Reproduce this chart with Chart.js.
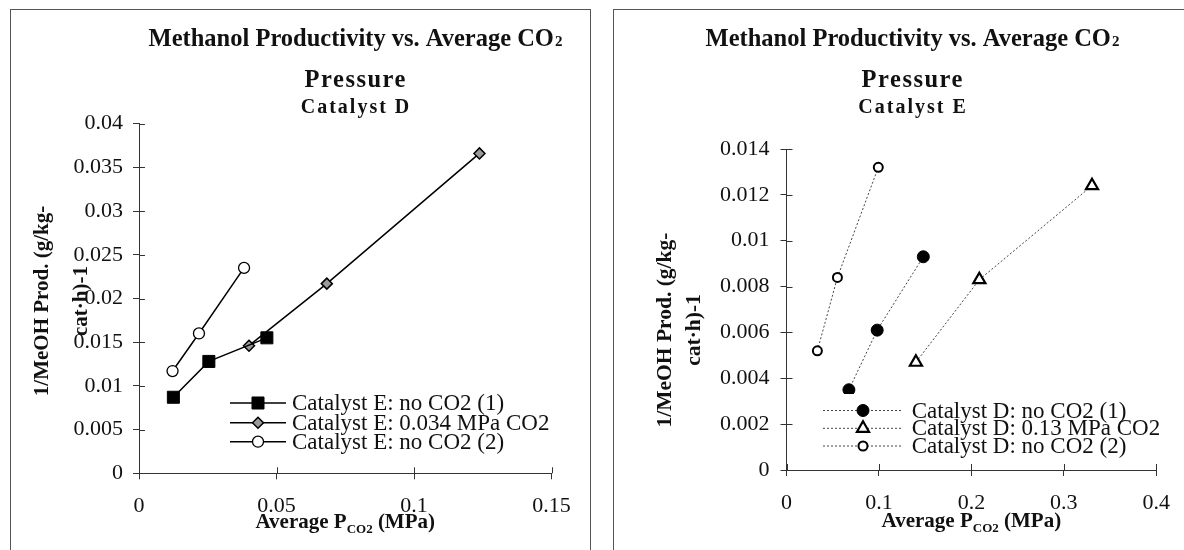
<!DOCTYPE html>
<html>
<head>
<meta charset="utf-8">
<script src="https://cdn.jsdelivr.net/npm/chart.js@4/dist/chart.umd.min.js"></script>
<style>
  html, body { margin: 0; padding: 0; background: #fff; }
  body { width: 1184px; height: 550px; position: relative; overflow: hidden; }
  .frame { position: absolute; border: 1px solid #555; box-sizing: border-box; }
  canvas { position: absolute; top: 0; }
</style>
</head>
<body>
<div class="frame" style="left:10px;top:9px;width:581px;height:570px"></div>
<div class="frame" style="left:613px;top:9px;width:600px;height:570px"></div>
<canvas id="chartE" width="600" height="550" style="left:0"></canvas>
<canvas id="chartD" width="584" height="550" style="left:600px"></canvas>
<script>
// ---------- Catalyst E (left panel) ----------
const eNoCO2a_x = [0.0125, 0.0254, 0.0465];
const eNoCO2a_y = [0.0087, 0.0128, 0.0155];
const eCO2_x    = [0.0400, 0.0683, 0.1238];
const eCO2_y    = [0.0146, 0.0217, 0.0366];
const eNoCO2b_x = [0.0122, 0.0218, 0.0382];
const eNoCO2b_y = [0.0117, 0.0160, 0.0235];
const eSeriesNames = ['Catalyst E: no CO2 (1)', 'Catalyst E: 0.034 MPa CO2', 'Catalyst E: no CO2 (2)'];
const eXTicks = [0, 0.05, 0.1, 0.15];
const eXTickLabels = ['0', '0.05', '0.1', '0.15'];
const eYTicks = [0, 0.005, 0.01, 0.015, 0.02, 0.025, 0.03, 0.035, 0.04];
const eYTickLabels = ['0', '0.005', '0.01', '0.015', '0.02', '0.025', '0.03', '0.035', '0.04'];

// ---------- Catalyst D (right panel) ----------
const dNoCO2a_x = [0.0675, 0.0981, 0.1480];
const dNoCO2a_y = [0.0035, 0.0061, 0.0093];
const dCO2_x    = [0.1400, 0.2086, 0.3305];
const dCO2_y    = [0.0047, 0.0083, 0.0124];
const dNoCO2b_x = [0.0334, 0.0551, 0.0993];
const dNoCO2b_y = [0.0052, 0.0084, 0.0132];
const dSeriesNames = ['Catalyst D: no CO2 (1)', 'Catalyst D: 0.13 MPa CO2', 'Catalyst D: no CO2 (2)'];
const dXTicks = [0, 0.1, 0.2, 0.3, 0.4];
const dXTickLabels = ['0', '0.1', '0.2', '0.3', '0.4'];
const dYTicks = [0, 0.002, 0.004, 0.006, 0.008, 0.01, 0.012, 0.014];
const dYTickLabels = ['0', '0.002', '0.004', '0.006', '0.008', '0.01', '0.012', '0.014'];

const FAMILY = "'Liberation Serif', 'Times New Roman', serif";
const INK = '#111';
const fnt = (size, bold) => (bold ? 'bold ' : '') + size + 'px ' + FAMILY;
const pts = (xs, ys) => xs.map((x, i) => ({ x, y: ys[i] }));

Chart.defaults.font.family = FAMILY;
Chart.defaults.color = INK;

function drawMarker(ctx, ds, x, y) {
  const r = ds.pointRadius, style = ds.pointStyle;
  ctx.save();
  ctx.beginPath();
  if (style === 'rect') {
    const s = Math.SQRT1_2 * r;
    ctx.rect(x - s, y - s, 2 * s, 2 * s);
  } else if (style === 'rectRot') {
    ctx.moveTo(x - r, y); ctx.lineTo(x, y - r); ctx.lineTo(x + r, y); ctx.lineTo(x, y + r); ctx.closePath();
  } else if (style === 'triangle') {
    for (let k = 0; k < 3; k++) {
      const a = -Math.PI / 2 + k * 2 * Math.PI / 3;
      const px = x + Math.cos(a) * r, py = y + Math.sin(a) * r;
      k ? ctx.lineTo(px, py) : ctx.moveTo(px, py);
    }
    ctx.closePath();
  } else {
    ctx.arc(x, y, r, 0, Math.PI * 2);
  }
  ctx.fillStyle = ds.pointBackgroundColor;
  ctx.fill();
  ctx.lineWidth = ds.pointBorderWidth;
  ctx.strokeStyle = ds.pointBorderColor;
  ctx.stroke();
  ctx.restore();
}

function drawDecor(cfg) {
  return {
    id: 'decor',
    afterDatasetsDraw(chart) {
      // legend sits on top of the data, inside the plot
      const ctx = chart.ctx, L = cfg.legend;
      ctx.save();
      ctx.fillStyle = '#fff';
      ctx.fillRect(L.box[0], L.box[1], L.box[2] - L.box[0], L.box[3] - L.box[1]);
      chart.data.datasets.forEach((ds, i) => {
        const y = L.rows[i];
        ctx.save();
        ctx.strokeStyle = ds.borderColor;
        ctx.lineWidth = ds.borderWidth;
        ctx.setLineDash(ds.borderDash || []);
        ctx.beginPath(); ctx.moveTo(L.x0, y); ctx.lineTo(L.x1, y); ctx.stroke();
        ctx.restore();
        drawMarker(ctx, ds, (L.x0 + L.x1) / 2, y);
        ctx.fillStyle = INK;
        ctx.font = fnt(L.size, false);
        ctx.textAlign = 'left';
        ctx.textBaseline = 'middle';
        ctx.fillText(ds.label, L.textX, y + 1);
      });
      ctx.restore();
    },
    afterDraw(chart) {
      const ctx = chart.ctx, a = chart.chartArea;
      const xs = chart.scales.x, ys = chart.scales.y;
      ctx.save();
      // inner halves of the crossing tick marks
      ctx.strokeStyle = '#333';
      ctx.lineWidth = 1;
      ctx.beginPath();
      xs.ticks.forEach(t => {
        const p = Math.round(xs.getPixelForValue(t.value)) + 0.5;
        ctx.moveTo(p, a.bottom); ctx.lineTo(p, a.bottom - 6);
      });
      ys.ticks.forEach(t => {
        const p = Math.round(ys.getPixelForValue(t.value)) + 0.5;
        ctx.moveTo(a.left, p); ctx.lineTo(a.left + 6, p);
      });
      ctx.stroke();

      ctx.fillStyle = INK;
      ctx.textBaseline = 'alphabetic';
      // title line 1, ending in CO with a small 2
      const T = cfg.title;
      const small = Math.round(T.size * 0.62);
      ctx.font = fnt(T.size, true);
      const main = 'Methanol Productivity vs. Average CO';
      const wMain = ctx.measureText(main).width;
      ctx.font = fnt(small, true);
      const w2 = ctx.measureText('2').width;
      let x = T.cx - (wMain + w2) / 2;
      ctx.font = fnt(T.size, true);
      ctx.textAlign = 'left';
      ctx.fillText(main, x, T.y1);
      ctx.font = fnt(small, true);
      ctx.fillText('2', x + wMain + 1, T.y1);
      // title line 2 and subtitle, letter-spaced
      const spaced = (s, size, y, spacing) => {
        ctx.font = fnt(size, true);
        ctx.letterSpacing = spacing + 'px';
        const w = ctx.measureText(s).width;
        ctx.fillText(s, T.cx - w / 2 + spacing / 2, y);
        ctx.letterSpacing = '0px';
      };
      spaced('Pressure', T.size, T.y2, 1.5);
      spaced(cfg.subtitle, T.subSize, T.y3, 2);

      // x axis title: Average P(CO2) (MPa)
      const X = cfg.xTitle;
      const parts = [
        { s: 'Average P', size: X.size, dy: 0 },
        { s: 'CO2', size: Math.round(X.size * 0.62), dy: 5 },
        { s: ' (MPa)', size: X.size, dy: 0 }
      ];
      let tot = 0;
      parts.forEach(p => { ctx.font = fnt(p.size, true); p.w = ctx.measureText(p.s).width; tot += p.w; });
      x = (a.left + a.right) / 2 - tot / 2;
      parts.forEach(p => { ctx.font = fnt(p.size, true); ctx.fillText(p.s, x, X.y + p.dy); x += p.w; });

      // y axis title, two rotated lines
      const Y = cfg.yTitle;
      ctx.font = fnt(Y.size, true);
      ctx.textAlign = 'center';
      ctx.textBaseline = 'middle';
      [['1/MeOH Prod. (g/kg-', Y.x1], ['cat\u00b7h)-1', Y.x2]].forEach(([s, lx]) => {
        ctx.save();
        ctx.translate(lx, Y.cy);
        ctx.rotate(-Math.PI / 2);
        ctx.fillText(s, 0, 0);
        ctx.restore();
      });
      ctx.restore();
    }
  };
}

function axes(xMin, xMax, xTicks, xLabels, yMin, yMax, yTicks, yLabels, tickSize, yW, xH, xPad, yPad) {
  const common = {
    type: 'linear',
    grid: { drawOnChartArea: false, drawTicks: true, tickLength: 6, color: '#333', lineWidth: 1 },
    border: { display: true, color: '#333', width: 1 },
  };
  return {
    x: Object.assign({}, common, {
      min: xMin, max: xMax,
      afterBuildTicks: s => { s.ticks = xTicks.map(v => ({ value: v })); },
      afterFit: s => { s.height = xH; },
      ticks: { font: { size: tickSize }, color: INK, padding: xPad, maxRotation: 0,
               callback: (v, i) => xLabels[i] }
    }),
    y: Object.assign({}, common, {
      min: yMin, max: yMax,
      afterBuildTicks: s => { s.ticks = yTicks.map(v => ({ value: v })); },
      afterFit: s => { s.width = yW; },
      ticks: { font: { size: tickSize }, color: INK, padding: yPad,
               callback: (v, i) => yLabels[i] }
    })
  };
}

const solid = { borderColor: '#000', borderWidth: 1.5, showLine: true, pointBorderColor: '#000' };
const dotted = { borderColor: '#444', borderWidth: 1, borderDash: [2, 2], showLine: true, pointBorderColor: '#000' };

new Chart(document.getElementById('chartE'), {
  type: 'scatter',
  data: {
    datasets: [
      Object.assign({ label: eSeriesNames[0], data: pts(eNoCO2a_x, eNoCO2a_y), pointStyle: 'rect',
        pointRadius: 8.5, pointBackgroundColor: '#000', pointBorderWidth: 1 }, solid),
      Object.assign({ label: eSeriesNames[1], data: pts(eCO2_x, eCO2_y), pointStyle: 'rectRot',
        pointRadius: 5.5, pointBackgroundColor: '#9a9a9a', pointBorderWidth: 1.5 }, solid),
      Object.assign({ label: eSeriesNames[2], data: pts(eNoCO2b_x, eNoCO2b_y), pointStyle: 'circle',
        pointRadius: 5.5, pointBackgroundColor: '#fff', pointBorderWidth: 1.3 }, solid)
    ]
  },
  options: {
    responsive: false, animation: false, devicePixelRatio: 1,
    layout: { padding: { left: 29, top: 123.7, right: 48.5, bottom: 36.7 } },
    plugins: { legend: { display: false }, title: { display: false }, tooltip: { enabled: false } },
    scales: axes(0, 0.15, eXTicks, eXTickLabels, 0, 0.04, eYTicks, eYTickLabels, 22, 110, 40, 14, 10)
  },
  plugins: [drawDecor({
    title: { cx: 355, y1: 46, y2: 87, y3: 113, size: 24.5, subSize: 20 },
    subtitle: 'Catalyst D',
    xTitle: { y: 528, size: 21 },
    yTitle: { x1: 43, x2: 82, cy: 301, size: 21 },
    legend: { x0: 230, x1: 286, textX: 292, rows: [403, 422.7, 441.7], size: 23, box: [226, 391, 552, 454] }
  })]
});

new Chart(document.getElementById('chartD'), {
  type: 'scatter',
  data: {
    datasets: [
      Object.assign({ label: dSeriesNames[0], data: pts(dNoCO2a_x, dNoCO2a_y), pointStyle: 'circle',
        pointRadius: 6, pointBackgroundColor: '#000', pointBorderWidth: 1 }, dotted),
      Object.assign({ label: dSeriesNames[1], data: pts(dCO2_x, dCO2_y), pointStyle: 'triangle',
        pointRadius: 7, pointBackgroundColor: '#fff', pointBorderWidth: 2.2 }, dotted),
      Object.assign({ label: dSeriesNames[2], data: pts(dNoCO2b_x, dNoCO2b_y), pointStyle: 'circle',
        pointRadius: 4.5, pointBackgroundColor: '#fff', pointBorderWidth: 2 }, dotted)
    ]
  },
  options: {
    responsive: false, animation: false, devicePixelRatio: 1,
    layout: { padding: { left: 76.5, top: 149, right: 20.7, bottom: 40 } },
    plugins: { legend: { display: false }, title: { display: false }, tooltip: { enabled: false } },
    scales: axes(0, 0.4, dXTicks, dXTickLabels, 0, 0.014, dYTicks, dYTickLabels, 22, 110, 40, 14, 11)
  },
  plugins: [drawDecor({
    title: { cx: 312, y1: 46, y2: 87, y3: 113, size: 24.5, subSize: 20 },
    subtitle: 'Catalyst E',
    xTitle: { y: 527, size: 21 },
    yTitle: { x1: 65, x2: 94, cy: 330, size: 21.5 },
    legend: { x0: 223, x1: 303, textX: 311.7, rows: [410.5, 428.3, 446], size: 23, box: [218, 394, 570, 458] }
  })]
});
</script>
</body>
</html>
